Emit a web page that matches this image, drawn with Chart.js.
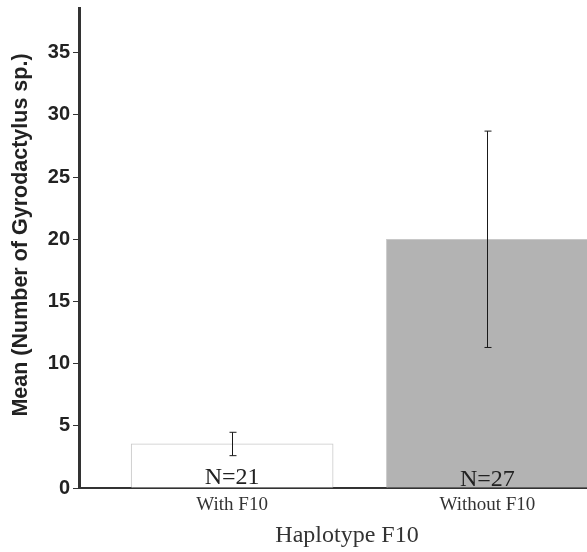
<!DOCTYPE html>
<html>
<head>
<meta charset="utf-8">
<script src="https://cdn.jsdelivr.net/npm/chart.js@4.4.1/dist/chart.umd.min.js"></script>
<style>
    html, body { margin: 0; padding: 0; background: #fff; overflow: hidden; }
    canvas { display: block; }
</style>
</head>
<body>
<canvas id="gyrograph" width="615" height="552"></canvas>
<script>
const categories = ['With F10', 'Without F10'];
const means = [3.55, 20.0];
const errHigh = [4.48, 28.7];
const errLow = [2.6, 11.3];
const sampleSizes = ['N=21', 'N=27'];
const yTicks = [0, 5, 10, 15, 20, 25, 30, 35];
const barColors = ['#ffffff', '#b3b3b3'];
const yTitle = 'Mean (Number of Gyrodactylus sp.)';

// error bars + N labels, drawn on top of the bars
const extrasPlugin = {
    id: 'extras',
    afterDatasetsDraw(chart) {
        const ctx = chart.ctx;
        const meta = chart.getDatasetMeta(0);
        const y = chart.scales.y;
        ctx.save();
        ctx.beginPath();
        ctx.rect(chart.chartArea.left, 0, chart.chartArea.right - chart.chartArea.left, chart.height);
        ctx.clip();
        meta.data.forEach((bar, i) => {
            const top = y.getPixelForValue(errHigh[i]);
            const bot = y.getPixelForValue(errLow[i]);
            const x = Math.round(bar.x) + 0.5;
            ctx.strokeStyle = '#1a1a1a';
            ctx.lineWidth = 1;
            ctx.beginPath();
            ctx.moveTo(x, top);
            ctx.lineTo(x, bot);
            ctx.moveTo(x - 3, top);
            ctx.lineTo(x + 4, top);
            ctx.moveTo(x - 3, bot);
            ctx.lineTo(x + 4, bot);
            ctx.stroke();

            ctx.fillStyle = '#222';
            ctx.font = '24px "Liberation Serif"';
            ctx.textAlign = 'center';
            ctx.textBaseline = 'alphabetic';
            ctx.fillText(sampleSizes[i], bar.x, y.getPixelForValue(0) - 4 + i * 2);
        });
        ctx.restore();
    },
    // y title sits a little above the middle of the axis in the original
    afterDraw(chart) {
        const ctx = chart.ctx;
        ctx.save();
        ctx.translate(21, 235);
        ctx.rotate(-Math.PI / 2);
        ctx.fillStyle = '#222';
        ctx.font = 'bold 21.5px "Liberation Sans"';
        ctx.textAlign = 'center';
        ctx.textBaseline = 'middle';
        ctx.fillText(yTitle, 0, 0);
        ctx.restore();
    }
};

const graphHTML = document.getElementById('gyrograph');
const gyroGraph = new Chart(graphHTML, {
    type: 'bar',
    data: {
        datasets: [{
            data: categories.map((c, i) => ({ x: i + 1, y: means[i] })),
            backgroundColor: barColors,
            borderColor: '#c8c8c8',
            borderWidth: 1,
            barThickness: 202
        }]
    },
    plugins: [extrasPlugin],
    options: {
        responsive: false,
        animation: false,
        layout: { padding: { top: 8, left: 0, right: 0, bottom: 0 } },
        plugins: {
            legend: { display: false },
            tooltip: { enabled: false }
        },
        scales: {
            x: {
                type: 'linear',
                offset: false,
                min: 0.4,
                max: 2.5,
                afterBuildTicks: (scale) => {
                    scale.ticks = categories.map((c, i) => ({ value: i + 1 }));
                },
                afterFit: (scale) => { scale.height = 64; },
                grid: { drawOnChartArea: false, drawTicks: false },
                border: { color: '#333', width: 2 },
                ticks: {
                    padding: 6,
                    color: '#333',
                    font: { family: 'Liberation Serif', size: 19 },
                    callback: (v) => categories[v - 1]
                },
                title: {
                    display: true,
                    text: 'Haplotype F10',
                    color: '#333',
                    font: { family: 'Liberation Serif', size: 24 },
                    padding: { top: 0, bottom: 2 }
                }
            },
            y: {
                min: 0,
                max: 38.6,
                afterBuildTicks: (scale) => {
                    scale.ticks = yTicks.map((v) => ({ value: v }));
                },
                afterFit: (scale) => {
                    scale.width = 79;
                    scale.paddingTop = 0;
                },
                grid: { drawOnChartArea: false, drawTicks: true, tickLength: 6, tickColor: '#333', tickWidth: 1 },
                border: { color: '#333', width: 3 },
                ticks: {
                    padding: 3,
                    color: '#222',
                    font: { family: 'Liberation Sans', size: 20, weight: 'bold' }
                }
            }
        }
    }
});
</script>
</body>
</html>
